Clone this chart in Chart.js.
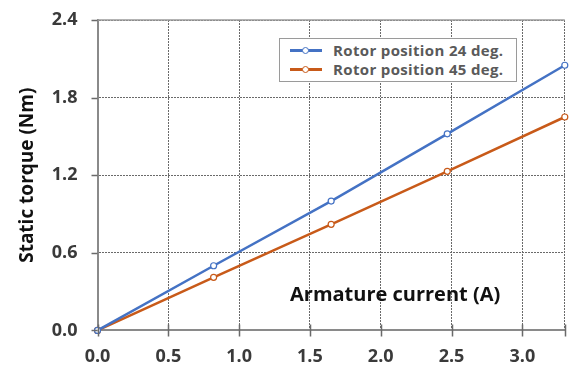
<!DOCTYPE html>
<html>
<head>
<meta charset="utf-8">
<script src="https://cdn.jsdelivr.net/npm/chart.js@4/dist/chart.umd.min.js"></script>
<style>
  html, body { margin: 0; padding: 0; background: #fff; overflow: hidden; }
  #wrap { position: relative; width: 570px; height: 366px; }
  #legend {
    position: absolute; left: 279px; top: 38px; width: 236px; height: 42px;
    border: 1.5px solid #9a9a9a; background: #fff;
    font: bold 15px "Open Sans", sans-serif; color: #5a5a5a;
  }
  #legend .row { position: absolute; left: 10px; height: 20px; line-height: 20px; white-space: nowrap; }
  #legend .swatch { position: absolute; left: 0; top: 9px; width: 32px; height: 2.5px; }
  #legend .dot {
    position: absolute; left: 12px; top: -2.5px; width: 5px; height: 5px;
    border-radius: 50%; background: #fff; border: 1.2px solid;
  }
  #legend .txt { position: absolute; left: 43px; top: 0; letter-spacing: 0.35px; }
  #xtitle {
    position: absolute; left: 290px; top: 280px; white-space: nowrap;
    font: bold 20px "Open Sans", sans-serif; color: #111;
  }
</style>
</head>
<body>
<div id="wrap">
  <canvas id="torque_chart" width="570" height="366"></canvas>
  <div id="legend"></div>
  <div id="xtitle">Armature current (A)</div>
</div>
<script>
var currents = [0, 0.82, 1.65, 2.47, 3.3];
var torque24 = [0, 0.50, 1.00, 1.52, 2.05];
var torque45 = [0, 0.41, 0.82, 1.23, 1.65];
var seriesLabels = ["Rotor position 24 deg.", "Rotor position 45 deg."];
var seriesColors = ["#4472c4", "#c85a19"];
var xTicks = [0, 0.5, 1, 1.5, 2, 2.5, 3, 3.3];
var yTicks = [0, 0.6, 1.2, 1.8, 2.4];

function toPoints(xs, ys) {
    var res = [];
    for (var i = 0; i < xs.length; ++i) {
        res.push({ x: xs[i], y: ys[i] });
    }
    return res;
}

function lineSet(label, values, color) {
    return {
        label: label,
        data: toPoints(currents, values),
        borderColor: color,
        backgroundColor: color,
        borderWidth: 2.5,
        pointRadius: 3,
        pointBorderWidth: 1.2,
        pointBackgroundColor: "#fff",
        pointBorderColor: color,
        tension: 0,
    };
}

// solid frame along the top and the short tick marks on both axes
// (the scales' own tick lines are transparent and only keep label spacing)
var frame = {
    id: "frame",
    afterDraw: function (chart) {
        var a = chart.chartArea, ctx = chart.ctx;
        var xs = chart.scales.x, ys = chart.scales.y;
        ctx.save();
        ctx.strokeStyle = "#9a9a9a";
        ctx.lineWidth = 1.5;
        ctx.beginPath();
        ctx.moveTo(a.left, a.top);
        ctx.lineTo(a.right, a.top);
        ctx.stroke();
        ctx.strokeStyle = "#6a6a6a";
        ctx.lineWidth = 1.5;
        ctx.beginPath();
        xs.ticks.forEach(function (t) {
            var px = Math.round(xs.getPixelForValue(t.value)) + 0.5;
            ctx.moveTo(px, a.bottom - 6);
            ctx.lineTo(px, a.bottom + 6);
        });
        ys.ticks.forEach(function (t) {
            var py = Math.round(ys.getPixelForValue(t.value)) + 0.5;
            ctx.moveTo(a.left - 6, py);
            ctx.lineTo(a.left, py);
        });
        ctx.stroke();
        ctx.restore();
    },
};

var tickFont = { family: "'Open Sans', sans-serif", size: 18, weight: "bold" };

var chart = new Chart(document.getElementById("torque_chart").getContext("2d"), {
    type: "line",
    data: {
        datasets: [
            lineSet(seriesLabels[0], torque24, seriesColors[0]),
            lineSet(seriesLabels[1], torque45, seriesColors[1]),
        ],
    },
    options: {
        responsive: false,
        animation: false,
        clip: false,
        layout: { padding: { top: 20, left: 16, right: 1, bottom: -2 } },
        plugins: { legend: { display: false }, tooltip: { enabled: false } },
        scales: {
            x: {
                type: "linear",
                min: 0,
                max: 3.3,
                afterBuildTicks: function (scale) {
                    scale.ticks = xTicks.map(function (v) {
                        return { value: v };
                    });
                },
                ticks: {
                    font: tickFont,
                    color: "#3a3a3a",
                    padding: 0,
                    maxRotation: 0,
                    callback: function (v) {
                        return v === 3.3 ? "" : v.toFixed(1);
                    },
                },
                grid: {
                    color: "#6a6a6a",
                    lineWidth: 1,
                    tickColor: "rgba(0,0,0,0)",
                    tickLength: 16,
                },
                border: { color: "#8a8a8a", width: 2, dash: [2, 1] },
            },
            y: {
                min: 0,
                max: 2.4,
                afterBuildTicks: function (scale) {
                    scale.ticks = yTicks.map(function (v) {
                        return { value: v };
                    });
                },
                ticks: {
                    font: tickFont,
                    color: "#3a3a3a",
                    padding: 0,
                    callback: function (v) {
                        return v.toFixed(1);
                    },
                },
                grid: {
                    color: "#6a6a6a",
                    lineWidth: 1,
                    tickColor: "rgba(0,0,0,0)",
                    tickLength: 20,
                },
                border: { color: "#8a8a8a", width: 2, dash: [2, 1] },
                title: {
                    display: true,
                    text: "Static torque (Nm)",
                    color: "#111",
                    font: { family: "'Open Sans', sans-serif", size: 19, weight: "bold" },
                    padding: { top: 0, bottom: 13 },
                },
            },
        },
    },
    plugins: [frame],
});

// legend box built from the dataset labels and colours
var legend = document.getElementById("legend");
chart.data.datasets.forEach(function (ds, i) {
    var row = document.createElement("div");
    row.className = "row";
    row.style.top = 1 + i * 19 + "px";
    row.innerHTML =
        '<span class="swatch" style="background:' + ds.borderColor + '">' +
        '<span class="dot" style="border-color:' + ds.borderColor + '"></span></span>' +
        '<span class="txt">' + ds.label + "</span>";
    legend.appendChild(row);
});
</script>
</body>
</html>
